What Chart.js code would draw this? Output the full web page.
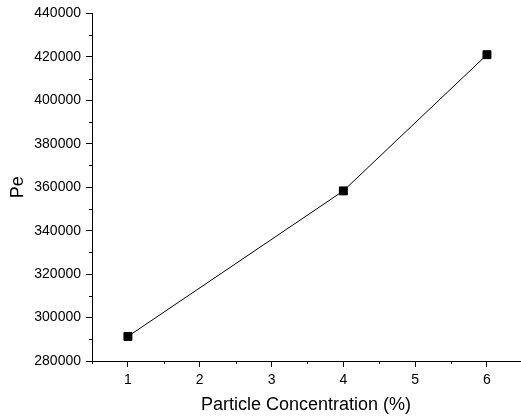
<!DOCTYPE html>
<html>
<head>
<meta charset="utf-8">
<script src="https://cdn.jsdelivr.net/npm/chart.js@4/dist/chart.umd.min.js"></script>
<style>
  body { margin: 0; background: #fff; }
  canvas { display: block; }
</style>
</head>
<body>
<canvas id="myChart" width="521" height="419"></canvas>
<script>
// data
const concentration = [1, 4, 6];
const pe = [291300, 358300, 421000];
const xTicks = [1, 2, 3, 4, 5, 6];
const yTicks = [280000, 300000, 320000, 340000, 360000, 380000, 400000, 420000, 440000];

const font = "'Liberation Sans', Arial, sans-serif";

const points = concentration.map((c, i) => ({ x: c, y: pe[i] }));

// minor ticks: shorter marks between the labelled ones
const minorTicks = {
  id: 'minorTicks',
  afterDraw(chart) {
    const ctx = chart.ctx;
    ctx.save();
    ctx.strokeStyle = '#000';
    ctx.lineWidth = 1;
    const xs = chart.scales.x, ys = chart.scales.y;
    xs.ticks.forEach(t => {
      if (xTicks.includes(t.value)) return;
      const px = Math.round(xs.getPixelForValue(t.value)) + 0.5;
      ctx.beginPath();
      ctx.moveTo(px, xs.top);
      ctx.lineTo(px, xs.top + 3);
      ctx.stroke();
    });
    ys.ticks.forEach(t => {
      if (yTicks.includes(t.value)) return;
      const py = Math.round(ys.getPixelForValue(t.value)) + 0.5;
      ctx.beginPath();
      ctx.moveTo(ys.right, py);
      ctx.lineTo(ys.right - 3, py);
      ctx.stroke();
    });
    ctx.restore();
  }
};

const config = {
  type: 'line',
  data: {
    datasets: [{
      data: points,
      borderColor: '#000',
      borderWidth: 1,
      backgroundColor: '#000',
      pointStyle: 'rect',
      pointRadius: 5.6,
      pointHoverRadius: 5.6,
      tension: 0,
      clip: false
    }]
  },
  options: {
    responsive: false,
    animation: false,
    layout: { autoPadding: false, padding: { top: 13, right: 1, left: 0, bottom: 0 } },
    plugins: { legend: { display: false }, tooltip: { enabled: false } },
    scales: {
      x: {
        type: 'linear',
        min: 0.5,
        max: 6.46,
        border: { color: '#000', width: 1 },
        grid: {
          drawOnChartArea: false,
          tickLength: 6,
          tickColor: (c) => c.tick && xTicks.includes(c.tick.value) ? '#000' : 'rgba(0,0,0,0)'
        },
        afterBuildTicks: (scale) => {
          const list = [];
          for (let i = 1; i <= 12; i++) list.push({ value: i / 2 });
          scale.ticks = list;
        },
        ticks: {
          color: '#000',
          font: { family: font, size: 14 },
          padding: 5,
          maxRotation: 0,
          autoSkip: false,
          callback: (v) => xTicks.includes(v) ? String(v) : ''
        },
        title: {
          display: true,
          text: 'Particle Concentration (%)',
          color: '#000',
          font: { family: font, size: 18 },
          padding: { top: 0, bottom: 3 }
        },
        afterFit: (scale) => {
          scale.height = 58;
          scale.paddingLeft = 0;
          scale.paddingRight = 0;
        }
      },
      y: {
        min: 280000,
        max: 440000,
        border: { color: '#000', width: 1 },
        grid: {
          drawOnChartArea: false,
          tickLength: 6,
          tickColor: (c) => c.tick && yTicks.includes(c.tick.value) ? '#000' : 'rgba(0,0,0,0)'
        },
        ticks: {
          stepSize: 10000,
          color: '#000',
          font: { family: font, size: 14 },
          padding: 5,
          autoSkip: false,
          callback: (v) => yTicks.includes(v) ? String(v) : ''
        },
        title: {
          display: true,
          text: 'Pe',
          color: '#000',
          font: { family: font, size: 18 },
          padding: { top: 7, bottom: 0 }
        },
        afterFit: (scale) => { scale.width = 92; }
      }
    }
  },
  plugins: [minorTicks]
};

const myChart = new Chart(document.getElementById('myChart'), config);
</script>
</body>
</html>
